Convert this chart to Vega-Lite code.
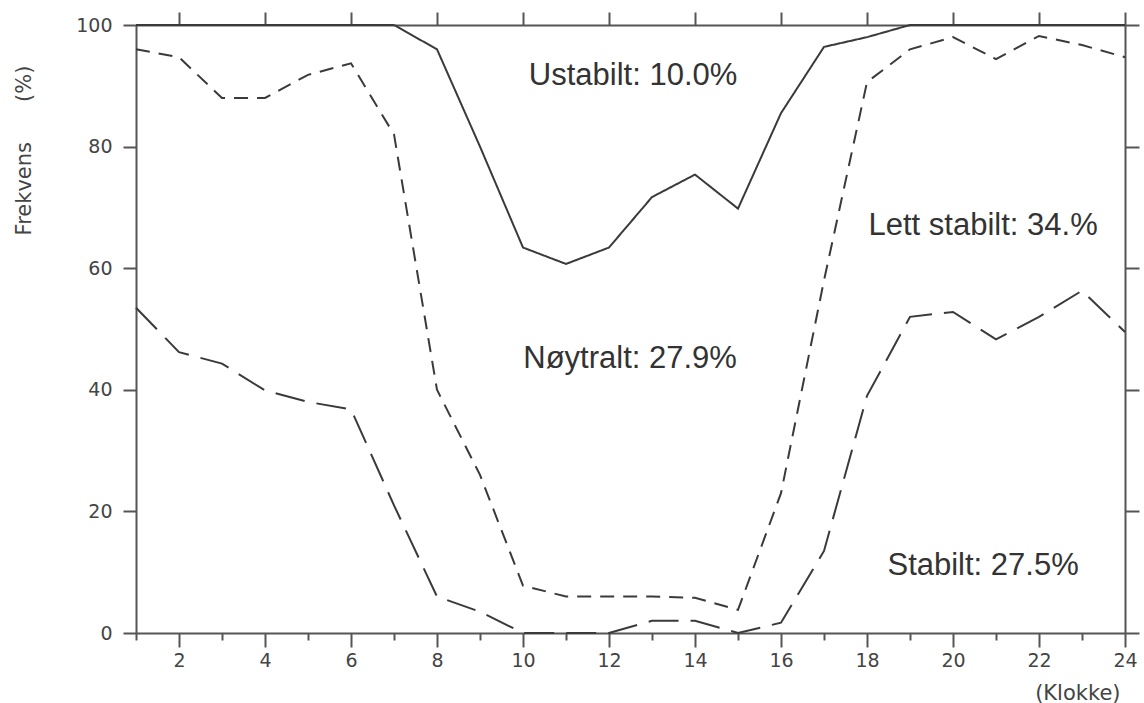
{
  "$schema": "https://vega.github.io/schema/vega-lite/v6.json",
  "width": 989,
  "height": 608,
  "autosize": {"type": "none"},
  "padding": {"left": 136, "top": 25, "right": 19, "bottom": 70},
  "background": "white",
  "config": {
    "view": {"stroke": null},
    "axis": {
      "domainColor": "#555555",
      "domainWidth": 2,
      "tickColor": "#555555",
      "tickWidth": 2,
      "grid": false,
      "labelFont": "DejaVu Sans",
      "labelFontSize": 19,
      "labelColor": "#444444",
      "titleFont": "DejaVu Sans",
      "titleFontWeight": "normal",
      "titleFontSize": 21,
      "titleColor": "#444444"
    }
  },
  "datasets": {
    "lines": [
      {"series": "Ustabilt", "hour": 1, "pct": 100},
      {"series": "Ustabilt", "hour": 2, "pct": 100},
      {"series": "Ustabilt", "hour": 3, "pct": 100},
      {"series": "Ustabilt", "hour": 4, "pct": 100},
      {"series": "Ustabilt", "hour": 5, "pct": 100},
      {"series": "Ustabilt", "hour": 6, "pct": 100},
      {"series": "Ustabilt", "hour": 7, "pct": 100},
      {"series": "Ustabilt", "hour": 8, "pct": 96},
      {"series": "Ustabilt", "hour": 9, "pct": 80},
      {"series": "Ustabilt", "hour": 10, "pct": 63.4},
      {"series": "Ustabilt", "hour": 11, "pct": 60.7},
      {"series": "Ustabilt", "hour": 12, "pct": 63.4},
      {"series": "Ustabilt", "hour": 13, "pct": 71.7},
      {"series": "Ustabilt", "hour": 14, "pct": 75.4},
      {"series": "Ustabilt", "hour": 15, "pct": 69.8},
      {"series": "Ustabilt", "hour": 16, "pct": 85.5},
      {"series": "Ustabilt", "hour": 17, "pct": 96.4},
      {"series": "Ustabilt", "hour": 18, "pct": 98},
      {"series": "Ustabilt", "hour": 19, "pct": 100},
      {"series": "Ustabilt", "hour": 20, "pct": 100},
      {"series": "Ustabilt", "hour": 21, "pct": 100},
      {"series": "Ustabilt", "hour": 22, "pct": 100},
      {"series": "Ustabilt", "hour": 23, "pct": 100},
      {"series": "Ustabilt", "hour": 24, "pct": 100},
      {"series": "Lett stabilt", "hour": 1, "pct": 96},
      {"series": "Lett stabilt", "hour": 2, "pct": 94.7},
      {"series": "Lett stabilt", "hour": 3, "pct": 88},
      {"series": "Lett stabilt", "hour": 4, "pct": 88},
      {"series": "Lett stabilt", "hour": 5, "pct": 91.8},
      {"series": "Lett stabilt", "hour": 6, "pct": 93.7},
      {"series": "Lett stabilt", "hour": 7, "pct": 82},
      {"series": "Lett stabilt", "hour": 8, "pct": 40},
      {"series": "Lett stabilt", "hour": 9, "pct": 26},
      {"series": "Lett stabilt", "hour": 10, "pct": 7.8},
      {"series": "Lett stabilt", "hour": 11, "pct": 6},
      {"series": "Lett stabilt", "hour": 12, "pct": 6},
      {"series": "Lett stabilt", "hour": 13, "pct": 6},
      {"series": "Lett stabilt", "hour": 14, "pct": 5.8},
      {"series": "Lett stabilt", "hour": 15, "pct": 3.8},
      {"series": "Lett stabilt", "hour": 16, "pct": 23},
      {"series": "Lett stabilt", "hour": 17, "pct": 58},
      {"series": "Lett stabilt", "hour": 18, "pct": 90.6},
      {"series": "Lett stabilt", "hour": 19, "pct": 96},
      {"series": "Lett stabilt", "hour": 20, "pct": 98},
      {"series": "Lett stabilt", "hour": 21, "pct": 94.4},
      {"series": "Lett stabilt", "hour": 22, "pct": 98.2},
      {"series": "Lett stabilt", "hour": 23, "pct": 96.7},
      {"series": "Lett stabilt", "hour": 24, "pct": 94.7},
      {"series": "Stabilt", "hour": 1, "pct": 53.5},
      {"series": "Stabilt", "hour": 2, "pct": 46.2},
      {"series": "Stabilt", "hour": 3, "pct": 44.3},
      {"series": "Stabilt", "hour": 4, "pct": 39.9},
      {"series": "Stabilt", "hour": 5, "pct": 38},
      {"series": "Stabilt", "hour": 6, "pct": 36.8},
      {"series": "Stabilt", "hour": 7, "pct": 21},
      {"series": "Stabilt", "hour": 8, "pct": 6},
      {"series": "Stabilt", "hour": 9, "pct": 3.5},
      {"series": "Stabilt", "hour": 10, "pct": 0},
      {"series": "Stabilt", "hour": 11, "pct": 0},
      {"series": "Stabilt", "hour": 12, "pct": 0},
      {"series": "Stabilt", "hour": 13, "pct": 2},
      {"series": "Stabilt", "hour": 14, "pct": 2},
      {"series": "Stabilt", "hour": 15, "pct": 0},
      {"series": "Stabilt", "hour": 16, "pct": 1.7},
      {"series": "Stabilt", "hour": 17, "pct": 13.5},
      {"series": "Stabilt", "hour": 18, "pct": 39},
      {"series": "Stabilt", "hour": 19, "pct": 52},
      {"series": "Stabilt", "hour": 20, "pct": 52.8},
      {"series": "Stabilt", "hour": 21, "pct": 48.3},
      {"series": "Stabilt", "hour": 22, "pct": 52},
      {"series": "Stabilt", "hour": 23, "pct": 56.3},
      {"series": "Stabilt", "hour": 24, "pct": 49.5}
    ],
    "labels": [
      {"group": "a", "label": "Ustabilt: 10.0%", "hour": 12.56, "pct": 91.6},
      {"group": "a", "label": "Nøytralt: 27.9%", "hour": 12.49, "pct": 45.0},
      {"group": "b", "label": "Lett stabilt: 34.%", "hour": 20.7, "pct": 66.9},
      {"group": "b", "label": "Stabilt: 27.5%", "hour": 20.7, "pct": 11.1}
    ]
  },
  "layer": [
    {
      "data": {"name": "lines"},
      "mark": {"type": "line", "strokeWidth": 2, "color": "#3a3a3a", "clip": false},
      "encoding": {
        "x": {
          "field": "hour", "type": "quantitative",
          "scale": {"domain": [1, 24], "nice": false, "zero": false},
          "axis": {
            "orient": "bottom",
            "values": [2, 4, 6, 8, 10, 12, 14, 16, 18, 20, 22, 24],
            "tickSize": 14,
            "labelPadding": 4,
            "labelFlush": false,
            "labelOverlap": false,
            "title": "(Klokke)",
            "titleX": 984,
            "titleY": 60,
            "titleAlign": "right",
            "titleBaseline": "middle"
          }
        },
        "y": {
          "field": "pct", "type": "quantitative",
          "scale": {"domain": [0, 100], "nice": false},
          "axis": {
            "orient": "left",
            "values": [0, 20, 40, 60, 80, 100],
            "tickSize": 13,
            "labelPadding": 11,
            "labelFlush": false,
            "labelOverlap": false,
            "title": "Frekvens\u00a0\u00a0\u00a0\u00a0\u00a0 (%)",
            "titleX": -112,
            "titleY": 125,
            "titleAngle": 270,
            "titleAlign": "center",
            "titleBaseline": "middle"
          }
        },
        "strokeDash": {
          "field": "series", "type": "nominal",
          "scale": {"domain": ["Ustabilt", "Lett stabilt", "Stabilt"], "range": [[1, 0], [14, 9], [30, 12]]},
          "legend": null
        }
      }
    },
    {
      "data": {"name": "labels"},
      "transform": [{"filter": "datum.group === 'a'"}],
      "mark": {"type": "text", "font": "Liberation Sans", "fontSize": 31, "color": "#333333", "align": "center", "baseline": "middle"},
      "encoding": {
        "x": {
          "field": "hour", "type": "quantitative",
          "scale": {"domain": [1, 24], "nice": false, "zero": false},
          "axis": {
            "orient": "bottom",
            "values": [1, 3, 5, 7, 9, 11, 13, 15, 17, 19, 21, 23],
            "tickSize": 7,
            "labels": false,
            "domain": false,
            "title": null
          }
        },
        "y": {
          "field": "pct", "type": "quantitative",
          "scale": {"domain": [0, 100], "nice": false},
          "axis": {
            "orient": "right",
            "values": [0, 20, 40, 60, 80, 100],
            "tickSize": 14,
            "labels": false,
            "title": null
          }
        },
        "text": {"field": "label"}
      }
    },
    {
      "data": {"name": "labels"},
      "transform": [{"filter": "datum.group === 'b'"}],
      "mark": {"type": "text", "font": "Liberation Sans", "fontSize": 31, "color": "#333333", "align": "center", "baseline": "middle"},
      "encoding": {
        "x": {
          "field": "hour", "type": "quantitative",
          "scale": {"domain": [1, 24], "nice": false, "zero": false},
          "axis": {
            "orient": "top",
            "values": [2, 4, 6, 8, 10, 12, 14, 16, 18, 20, 22, 24],
            "tickSize": 13,
            "labels": false,
            "title": null
          }
        },
        "y": {
          "field": "pct", "type": "quantitative",
          "scale": {"domain": [0, 100], "nice": false},
          "axis": null
        },
        "text": {"field": "label"}
      }
    }
  ],
  "resolve": {"axis": {"x": "independent", "y": "independent"}}
}
